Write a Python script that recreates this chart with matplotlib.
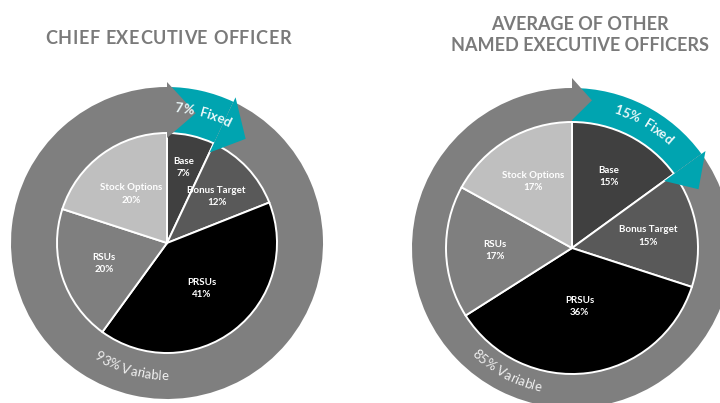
import numpy as np
import matplotlib.pyplot as plt
from matplotlib.patches import Polygon

plt.rcParams['font.family'] = ['Lato', 'DejaVu Sans']

# data
categories = ['Base', 'Bonus Target', 'PRSUs', 'RSUs', 'Stock Options']
ceo_pct = [7, 12, 41, 20, 20]
neo_pct = [15, 15, 36, 17, 17]
ceo_fixed = 7
neo_fixed = 15
ceo_title = 'CHIEF EXECUTIVE OFFICER'
neo_title = 'AVERAGE OF OTHER\nNAMED EXECUTIVE OFFICERS'

slice_colors = ['#404040', '#595959', '#000000', '#7f7f7f', '#bfbfbf']
ring_gray = '#7f7f7f'
teal = '#00a4b0'
title_gray = '#7a7a7a'

fig = plt.figure(figsize=(7.2, 4.03), dpi=100)
ax = fig.add_axes([0, 0, 1, 1])
renderer = fig.canvas.get_renderer()


def measure(s, **kw):
    t = ax.text(0, 0, s, **kw)
    w = t.get_window_extent(renderer).width
    t.remove()
    return w


def prefix_widths(s, **kw):
    base = measure('|', **kw)
    return [0.0] + [measure(s[:i + 1] + '|', **kw) - base for i in range(len(s))]


def arc_text(cx, cy, r, center_deg, s, top=True, **kw):
    p = prefix_widths(s, **kw)
    W = p[-1]
    for i, ch in enumerate(s):
        if ch == ' ':
            continue
        c = (p[i] + p[i + 1]) / 2
        if top:
            a = center_deg + np.degrees((W / 2 - c) / r)
            rot = a - 90
        else:
            a = center_deg - np.degrees((W / 2 - c) / r)
            rot = a + 90
        x = cx + r * np.cos(np.radians(a))
        y = cy + r * np.sin(np.radians(a))
        ax.text(x, y, ch, rotation=rot, rotation_mode='anchor',
                ha='center', va='center', zorder=10, **kw)


def arrow_head(cx, cy, a0, r_in, r_out, length, color):
    rm = (r_in + r_out) / 2
    d = np.degrees(length / rm)
    pts = [(cx + r_out * np.cos(np.radians(a0)), cy + r_out * np.sin(np.radians(a0))),
           (cx + rm * np.cos(np.radians(a0 - d)), cy + rm * np.sin(np.radians(a0 - d))),
           (cx + r_in * np.cos(np.radians(a0)), cy + r_in * np.sin(np.radians(a0)))]
    ax.add_patch(Polygon(pts, closed=True, facecolor=color, edgecolor='none', zorder=6))


def donut(cx, cy, r_pie, r_out, values, fixed, var_angle, gray_head, teal_head, ldist):
    ring_w = r_out - r_pie
    # outer ring: fixed (teal) then variable (gray), clockwise from the top
    ax.pie([fixed, 100 - fixed], colors=[teal, ring_gray], startangle=90,
           counterclock=False, center=(cx, cy), radius=r_out,
           wedgeprops=dict(width=ring_w, edgecolor='none'))
    labels = [f'{c}\n{v}%' for c, v in zip(categories, values)]
    wedges, texts = ax.pie(values, colors=slice_colors, startangle=90,
                           counterclock=False, center=(cx, cy), radius=r_pie,
                           labels=labels, labeldistance=0.6,
                           wedgeprops=dict(edgecolor='white', linewidth=1.4),
                           textprops=dict(color='white', fontsize=7,
                                          fontweight='bold', linespacing=1.45))
    for t, w, d in zip(texts, wedges, ldist):
        t.set_ha('center')
        t.set_va('center')
        a = np.radians((w.theta1 + w.theta2) / 2)
        t.set_position((cx + d * r_pie * np.cos(a), cy + d * r_pie * np.sin(a)))
    end = 90 - 360 * fixed / 100
    arrow_head(cx, cy, end, *teal_head, teal)
    arrow_head(cx, cy, 90, *gray_head, ring_gray)
    mid_r = (r_pie + r_out) / 2
    fixed_mid = 90 - 360 * fixed / 100 / 2 - 3
    arc_text(cx, cy, mid_r + 2, fixed_mid, f'{fixed}%  Fixed', top=True,
             color='#eaf8f9', fontsize=9.5, fontweight='bold')
    arc_text(cx, cy, mid_r, var_angle, f'{100 - fixed}% Variable', top=False,
             color='#f0f0f0', fontsize=9.5)


# left: CEO
donut(167, 160, 110, 156, ceo_pct, ceo_fixed, 254,
      gray_head=(105, 161, 29), teal_head=(100, 161, 27),
      ldist=[0.7, 0.62, 0.52, 0.6, 0.55])
# right: other NEOs
donut(572, 155, 126, 160, neo_pct, neo_fixed, 242,
      gray_head=(128, 170, 20), teal_head=(114, 165, 27),
      ldist=[0.64, 0.61, 0.47, 0.61, 0.61])

# left title with letter spacing
tkw = dict(fontsize=13, fontweight='bold', color=title_gray)
p = prefix_widths(ceo_title, **tkw)
n = len(ceo_title)
track = (246 - p[-1]) / (n - 1)
x0 = 45
for i, ch in enumerate(ceo_title):
    ax.text(x0 + p[i] + i * track, 403 - 38, ch, ha='left', va='center', **tkw)

ax.text(580, 403 - 35, neo_title, ha='center', va='center', fontsize=13,
        fontweight='bold', color=title_gray, linespacing=1.25)

ax.set_xlim(0, 720)
ax.set_ylim(0, 403)
ax.set_aspect('auto')
ax.axis('off')
fig.savefig('out.png', dpi=100)
